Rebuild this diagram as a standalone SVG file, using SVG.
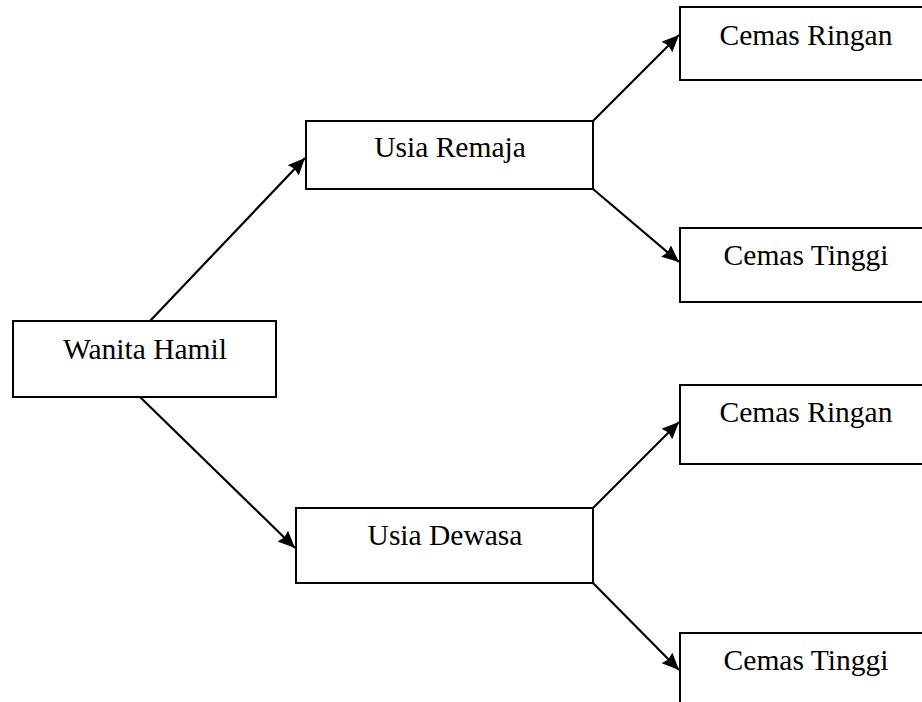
<svg xmlns="http://www.w3.org/2000/svg" width="922" height="702" viewBox="0 0 922 702">
<style>
.box{fill:#fff;stroke:#000;stroke-width:2}
.lbl{font-family:"Liberation Serif","Times New Roman",serif;font-size:29.5px;fill:#000;text-anchor:middle}
.edge{stroke:#000;stroke-width:2.2;fill:none;marker-end:url(#ah)}
</style>
<defs>
<marker id="ah" markerUnits="userSpaceOnUse" markerWidth="20" markerHeight="16" refX="17" refY="7.5" orient="auto">
<path d="M0,0 L17,7.5 L0,15 L2,7.5 Z" fill="#000"/>
</marker>
</defs>
<rect width="922" height="702" fill="#fff"/>
<g id="connectors">
<line class="edge" x1="150" y1="321" x2="305" y2="158"/>
<line class="edge" x1="140" y1="397" x2="295" y2="548"/>
<line class="edge" x1="593" y1="121" x2="679" y2="35"/>
<line class="edge" x1="593" y1="189" x2="679" y2="262"/>
<line class="edge" x1="593" y1="508" x2="679" y2="422"/>
<line class="edge" x1="593" y1="583" x2="679" y2="670"/>
</g>
<g id="wanita-hamil">
<rect class="box" x="13" y="321" width="263" height="76"/>
<text class="lbl" x="145" y="359">Wanita Hamil</text>
</g>
<g id="usia-remaja">
<rect class="box" x="306" y="121" width="287" height="68"/>
<text class="lbl" x="450" y="157">Usia Remaja</text>
</g>
<g id="usia-dewasa">
<rect class="box" x="296" y="508" width="297" height="75"/>
<text class="lbl" x="445" y="545">Usia Dewasa</text>
</g>
<g id="cemas-ringan-1">
<rect class="box" x="680" y="7" width="260" height="73"/>
<text class="lbl" x="806" y="45">Cemas Ringan</text>
</g>
<g id="cemas-tinggi-1">
<rect class="box" x="680" y="228" width="260" height="74"/>
<text class="lbl" x="806" y="265">Cemas Tinggi</text>
</g>
<g id="cemas-ringan-2">
<rect class="box" x="680" y="385" width="260" height="79"/>
<text class="lbl" x="806" y="422">Cemas Ringan</text>
</g>
<g id="cemas-tinggi-2">
<rect class="box" x="680" y="633" width="260" height="90"/>
<text class="lbl" x="806" y="670">Cemas Tinggi</text>
</g>
</svg>
